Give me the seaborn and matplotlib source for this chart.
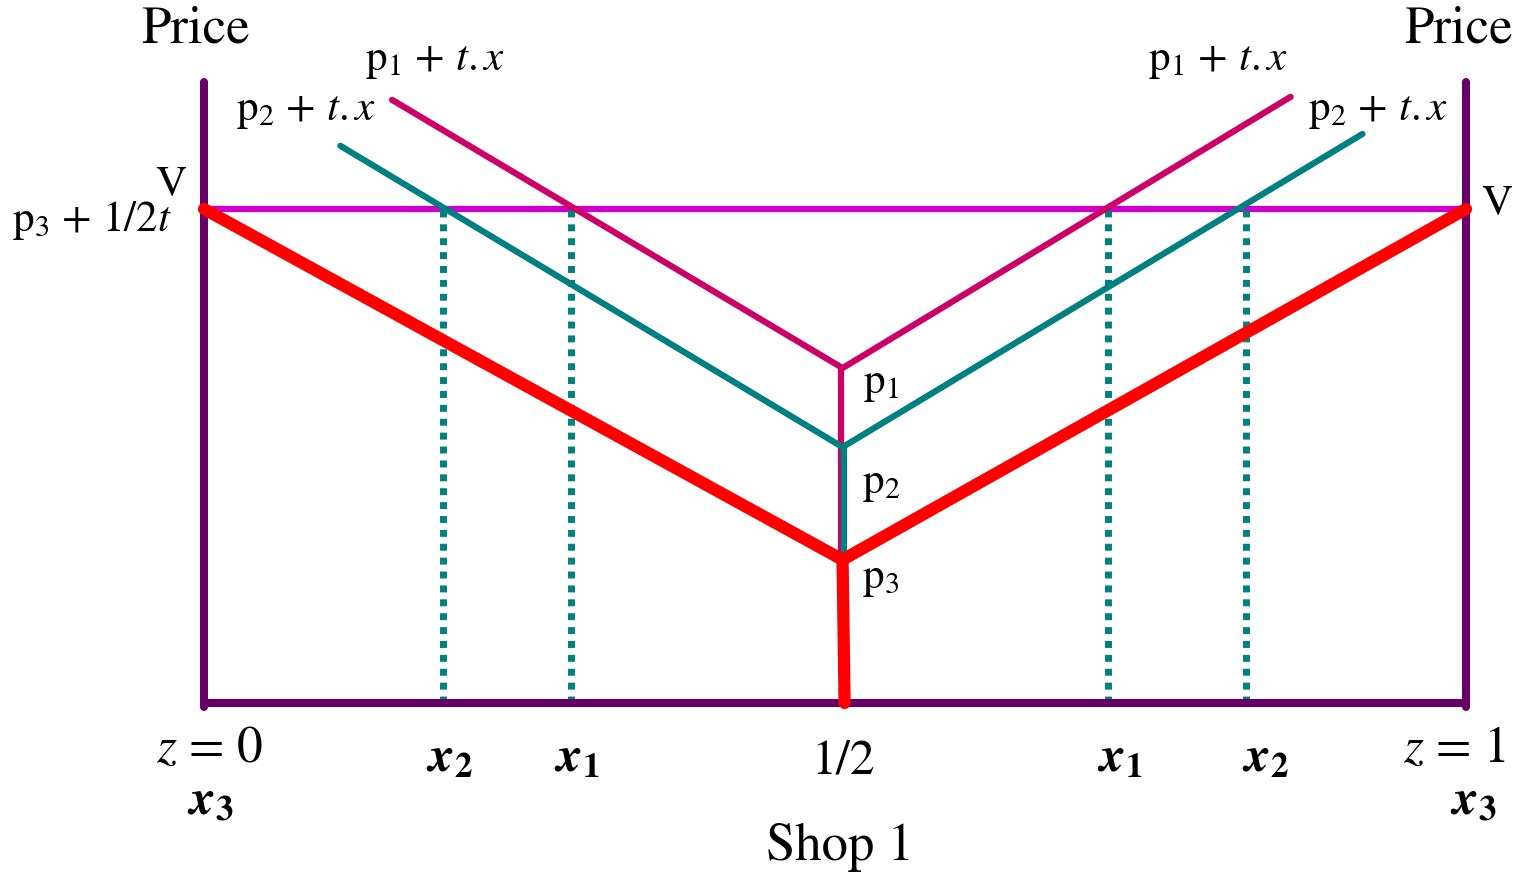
import matplotlib
matplotlib.use("Agg")
import matplotlib.pyplot as plt
import seaborn as sns
import pandas as pd

# ---- data (price units: 0 = bottom axis, V = 1) ----
x_mid = 0.506
V = 1.0
p1, p2, p3 = 0.678, 0.518, 0.290

# V-shaped delivered price lines: (x, price)
p1_x = [0.149, x_mid, 0.861]
p1_y = [1.221, p1, 1.227]
p2_x = [0.108, x_mid, 0.918]
p2_y = [1.128, p2, 1.152]
p3_x = [0.0, x_mid, 1.0]
p3_y = [V, p3, V]

# market boundaries where each price line crosses V
x1_left, x2_left = 0.291, 0.189
x1_right, x2_right = 0.716, 0.826
bounds = [x2_left, x1_left, x1_right, x2_right]

# ---- style ----
sns.set_theme(style="white")
plt.rcParams["font.family"] = ["STIXGeneral", "DejaVu Sans"]
plt.rcParams["mathtext.fontset"] = "stix"

C_AX = "#660066"
C_V = "#CC00CC"
C_P1 = "#CC0066"
C_P2 = "#008080"
C_P3 = "#FF0000"

fig = plt.figure(figsize=(15.19, 8.74), dpi=100)
ax = fig.add_axes([0, 0, 1, 1])
ax.set_xlim(-204 / 1262, (1519 - 204) / 1262)
ax.set_ylim(-171 / 494, 703 / 494)
ax.axis("off")

top = 1.257

def seg(xs, ys, color, lw, **kw):
    df = pd.DataFrame({"x": xs, "y": ys})
    sns.lineplot(data=df, x="x", y="y", ax=ax, color=color, linewidth=lw,
                 sort=False, estimator=None, clip_on=False, **kw)

# V line
seg([0, 1], [V, V], C_V, 4.5, zorder=2)
# dotted boundaries
for b in bounds:
    seg([b, b], [0, V], C_P2, 5.0, linestyle=(0, (1.0, 1.0)), zorder=2)
# p1 V shape + vertical
seg(p1_x, p1_y, C_P1, 4.5, zorder=3)
seg([x_mid - 0.0015, x_mid - 0.0015], [p1, p3], C_P1, 4.5, zorder=3)
# p2 V shape + vertical
seg(p2_x, p2_y, C_P2, 4.5, zorder=4)
seg([x_mid + 0.001, x_mid + 0.001], [p2, p3 + 0.01], C_P2, 4.5, zorder=4)
# p3 (thick red)
seg(p3_x, p3_y, C_P3, 8.8, zorder=6)
seg([x_mid, x_mid + 0.0016], [p3, 0], C_P3, 8.8, zorder=6)

# axes frame
seg([0, 0], [-0.008, top], C_AX, 5.8, zorder=5)
seg([1, 1], [-0.008, top], C_AX, 5.8, zorder=5)
seg([0, 1], [0, 0], C_AX, 5.8, zorder=5)

# ---- text ----
def px(x, y):
    return (x - 204) / 1262, (703 - y) / 494

def txt(x, y, s, size, **kw):
    ax.text(*px(x, y), s, fontsize=size, ha="center", va="center",
            color="black", **kw)

txt(195, 30, "Price", 38)
txt(1458, 30, "Price", 38)
txt(435, 62, r"p$_1$ + $t.x$", 31)
txt(1218, 62, r"p$_1$ + $t.x$", 31)
txt(306, 112, r"p$_2$ + $t.x$", 31)
txt(1378, 112, r"p$_2$ + $t.x$", 31)
txt(171, 186, "V", 31)
txt(92, 220, r"p$_3$ + 1/2$t$", 31)
txt(1497, 205, "V", 31)
txt(881, 385, r"p$_1$", 31)
txt(881, 485, r"p$_2$", 31)
txt(881, 580, r"p$_3$", 31)

txt(210, 750, r"$z$ = 0", 37)
txt(210, 802, r"$\mathbfit{x}_{\mathbf{3}}$", 36)
txt(449, 760, r"$\mathbfit{x}_{\mathbf{2}}$", 36)
txt(577, 760, r"$\mathbfit{x}_{\mathbf{1}}$", 36)
txt(843, 762, "1/2", 36)
txt(1120, 760, r"$\mathbfit{x}_{\mathbf{1}}$", 36)
txt(1265, 760, r"$\mathbfit{x}_{\mathbf{2}}$", 36)
txt(1455, 750, r"$z$ = 1", 37)
txt(1473, 802, r"$\mathbfit{x}_{\mathbf{3}}$", 36)
txt(840, 847, "Shop 1", 38)

fig.savefig("out.png", dpi=100)
